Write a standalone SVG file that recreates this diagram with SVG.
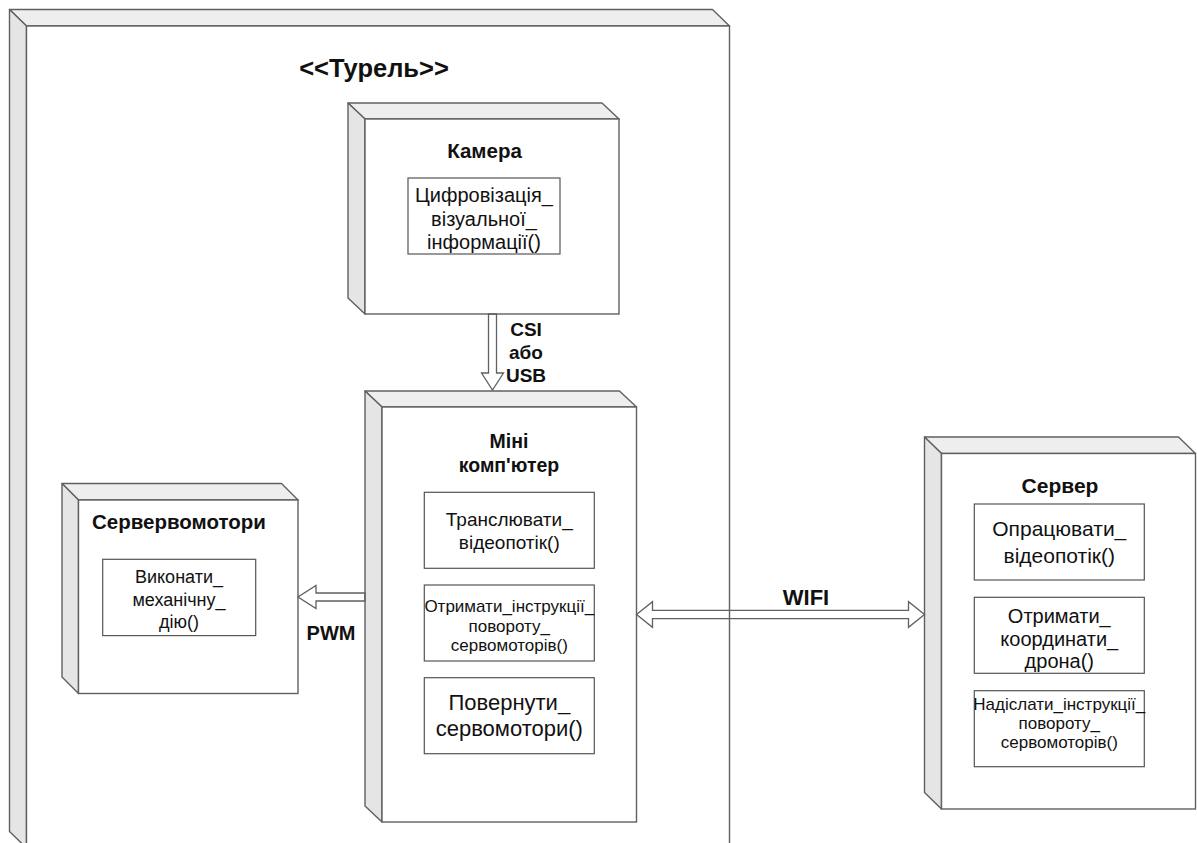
<svg xmlns="http://www.w3.org/2000/svg" width="1197" height="843" viewBox="0 0 1197 843">
<style>
  .front{fill:#ffffff;stroke:#606060;stroke-width:1.4}
  .top{fill:#eeeeee;stroke:#606060;stroke-width:1.4;stroke-linejoin:round}
  .side{fill:#e5e5e5;stroke:#606060;stroke-width:1.4;stroke-linejoin:round}
  .op{fill:#ffffff;stroke:#555555;stroke-width:1.2}
  .arrow{fill:none;stroke:#606060;stroke-width:1.3;stroke-linejoin:miter}
  text{font-family:"Liberation Sans",Arial,sans-serif;fill:#111111;text-anchor:middle}
  .b{font-weight:bold}
</style>
<rect width="1197" height="843" fill="#ffffff"/>

<g id="turret">
  <polygon class="top" points="9.5,9.5 712.5,9.5 729.5,26 26.5,26"/>
  <polygon class="side" points="9.5,9.5 26.5,26 26.5,848 9.5,831.5"/>
  <rect class="front" x="26.5" y="26" width="703" height="822"/>
  <text class="b" x="374" y="77" font-size="25.5">&lt;&lt;Турель&gt;&gt;</text>
</g>

<g id="camera">
  <polygon class="top" points="348,103 602,103 619,119 365,119"/>
  <polygon class="side" points="348,103 365,119 365,314 348,298"/>
  <rect class="front" x="365" y="119" width="254" height="195"/>
  <text class="b" x="484.5" y="157.5" font-size="20.5">Камера</text>
  <rect class="op" x="408" y="178" width="152" height="76"/>
  <text x="484" y="202" font-size="20">Цифровізація_</text>
  <text x="484" y="225.5" font-size="20">візуальної_</text>
  <text x="484" y="249" font-size="20">інформації()</text>
</g>

<g id="minicomputer">
  <polygon class="top" points="365,391 619.5,391 636.5,407 382,407"/>
  <polygon class="side" points="365,391 382,407 382,822 365,806"/>
  <rect class="front" x="382" y="407" width="254.5" height="415"/>
  <text class="b" x="509" y="448" font-size="19.5">Міні</text>
  <text class="b" x="509" y="471.5" font-size="19.5">комп'ютер</text>
  <rect class="op" x="424.3" y="492.3" width="170" height="76"/>
  <text x="509.3" y="525.7" font-size="19">Транслювати_</text>
  <text x="509.3" y="549" font-size="19">відеопотік()</text>
  <rect class="op" x="424.3" y="585" width="170" height="76"/>
  <text x="509.3" y="612" font-size="17">Отримати_інструкції_</text>
  <text x="509.3" y="631.7" font-size="17">повороту_</text>
  <text x="509.3" y="650.7" font-size="17">сервомоторів()</text>
  <rect class="op" x="424.3" y="677.7" width="170" height="76"/>
  <text x="509.3" y="710" font-size="22">Повернути_</text>
  <text x="509.3" y="736" font-size="22">сервомотори()</text>
</g>

<g id="servomotors">
  <polygon class="top" points="62,483.5 281.5,483.5 298,500 78.5,500"/>
  <polygon class="side" points="62,483.5 78.5,500 78.5,693.5 62,677"/>
  <rect class="front" x="78.5" y="500" width="219.5" height="193.5"/>
  <text class="b" x="179" y="529.3" font-size="20.5">Сервервомотори</text>
  <rect class="op" x="102.7" y="559.3" width="153" height="76.3"/>
  <text x="179" y="583.3" font-size="18">Виконати_</text>
  <text x="179" y="606" font-size="18">механічну_</text>
  <text x="179" y="628" font-size="18">дію()</text>
</g>

<g id="server">
  <polygon class="top" points="924.5,437 1178.5,437 1195.5,453.5 941.5,453.5"/>
  <polygon class="side" points="924.5,437 941.5,453.5 941.5,809 924.5,792.5"/>
  <rect class="front" x="941.5" y="453.5" width="254" height="355.5"/>
  <text class="b" x="1060" y="493" font-size="21">Сервер</text>
  <rect class="op" x="974.3" y="504" width="170" height="76"/>
  <text x="1059.3" y="536" font-size="21">Опрацювати_</text>
  <text x="1059.3" y="562.7" font-size="21">відеопотік()</text>
  <rect class="op" x="974.3" y="597.3" width="170" height="76"/>
  <text x="1059.3" y="623" font-size="20">Отримати_</text>
  <text x="1059.3" y="645.5" font-size="20">координати_</text>
  <text x="1059.3" y="668" font-size="20">дрона()</text>
  <rect class="op" x="974.3" y="690.7" width="170" height="76"/>
  <text x="1059.3" y="710" font-size="17">Надіслати_інструкції_</text>
  <text x="1059.3" y="729.3" font-size="17">повороту_</text>
  <text x="1059.3" y="748.3" font-size="17">сервомоторів()</text>
</g>

<g id="connectors">
  <polygon class="arrow" points="488.5,314 496.5,314 496.5,373 503.5,373 492.5,390 481.5,373 488.5,373"/>
  <text class="b" x="526" y="335.5" font-size="19">CSI</text>
  <text class="b" x="526" y="359" font-size="19">або</text>
  <text class="b" x="526" y="382" font-size="19">USB</text>
  <polygon class="arrow" points="365,593 316,593 316,585.5 298,597 316,608.5 316,601 365,601"/>
  <text class="b" x="331" y="640" font-size="20">PWM</text>
  <polygon class="arrow" points="636.5,614.5 652.5,601.7 652.5,610.3 908.5,610.3 908.5,601.7 924.5,614.5 908.5,627.3 908.5,618.7 652.5,618.7 652.5,627.3"/>
  <text class="b" x="806" y="605" font-size="22">WIFI</text>
</g>
</svg>
